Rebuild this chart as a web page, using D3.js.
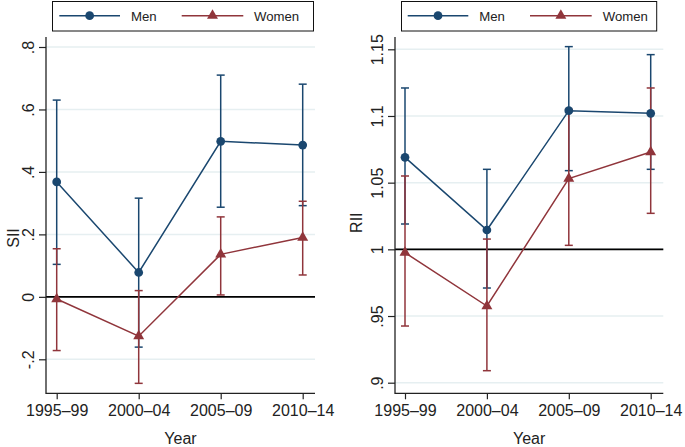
<!DOCTYPE html>
<html><head><meta charset="utf-8">
<script src="https://cdn.jsdelivr.net/npm/d3@7"></script>
<style>
html,body{margin:0;padding:0;background:#fff;}
svg{display:block;font-family:"Liberation Sans",Arial,Helvetica,sans-serif;}
</style></head>
<body><svg id="c" width="685" height="447"></svg>
<script>
const categories = ["1995–99","2000–04","2005–09","2010–14"];
const siiMen     = [0.368, 0.078, 0.498, 0.486];
const siiMenLo   = [0.104, -0.161, 0.287, 0.292];
const siiMenHi   = [0.630, 0.316, 0.710, 0.681];
const siiWomen   = [-0.007, -0.126, 0.136, 0.190];
const siiWomenLo = [-0.172, -0.277, 0.006, 0.070];
const siiWomenHi = [0.154, 0.020, 0.256, 0.306];
const riiMen     = [1.069, 1.0145, 1.104, 1.102];
const riiMenLo   = [1.019, 0.971, 1.059, 1.060];
const riiMenHi   = [1.121, 1.060, 1.152, 1.146];
const riiWomen   = [0.9975, 0.9575, 1.053, 1.073];
const riiWomenLo = [0.9425, 0.909, 1.003, 1.027];
const riiWomenHi = [1.055, 1.0077, 1.105, 1.121];
const siiTicks = [-0.2, 0, 0.2, 0.4, 0.6, 0.8];
const siiTickLabels = ["-.2","0",".2",".4",".6",".8"];
const riiTicks = [0.9, 0.95, 1, 1.05, 1.1, 1.15];
const riiTickLabels = [".9",".95","1","1.05","1.1","1.15"];
const seriesNames = ["Men","Women"];

const NAVY = "#1a476f", MAROON = "#90353b", GRID = "#e6eff1";
const svg = d3.select("#c");

function panel(cfg){
  const g = svg.append("g");
  const {x0,x1,yTop,yBot} = cfg;
  const x = d3.scalePoint().domain(categories).range(cfg.xr);
  const y = d3.scaleLinear().domain(cfg.ydom).range(cfg.yr);
  // gridlines
  g.selectAll(".grid").data(cfg.ticks).join("line")
    .attr("x1", x0).attr("x2", x1)
    .attr("y1", d=>y(d)).attr("y2", d=>y(d))
    .attr("stroke", GRID).attr("stroke-width", 1.5);
  // reference line
  g.append("line").attr("x1", x0).attr("x2", x1)
    .attr("y1", y(cfg.ref)).attr("y2", y(cfg.ref))
    .attr("stroke", "#000").attr("stroke-width", 1.8);
  // y axis
  const ya = g.append("g").attr("transform", `translate(${x0},0)`)
    .call(d3.axisLeft(y).tickValues(cfg.ticks).tickFormat((d,i)=>cfg.labels[i]).tickSize(7).tickSizeOuter(0));
  ya.select(".domain").remove();
  ya.selectAll(".tick line").attr("stroke","#222").attr("stroke-width",1.2);
  ya.selectAll(".tick text").attr("transform","rotate(-90)")
    .attr("x",0).attr("y",-12.5).attr("dy",0).attr("text-anchor","middle")
    .attr("font-size",16).attr("fill","#222").style("font-family","Liberation Sans, Arial, sans-serif");
  // x axis
  const xa = g.append("g").attr("transform", `translate(0,${yBot})`)
    .call(d3.axisBottom(x).tickSize(6).tickSizeOuter(0));
  xa.select(".domain").remove();
  xa.selectAll(".tick line").attr("stroke","#222").attr("stroke-width",1.2);
  xa.selectAll(".tick text").attr("y",22.4).attr("dy",0)
    .attr("font-size",16).attr("fill","#222").style("font-family","Liberation Sans, Arial, sans-serif");
  // axis lines
  g.append("line").attr("x1",x0).attr("x2",x0).attr("y1",yTop).attr("y2",yBot+0.6)
    .attr("stroke","#222").attr("stroke-width",1.3);
  g.append("line").attr("x1",x0).attr("x2",x1).attr("y1",yBot).attr("y2",yBot)
    .attr("stroke","#222").attr("stroke-width",1.3);
  // titles
  g.append("text").attr("transform",`translate(${cfg.ytx},${cfg.yty}) rotate(-90)`)
    .attr("text-anchor","middle").attr("font-size",16).attr("fill","#222").text(cfg.ytitle);
  g.append("text").attr("x",(x0+x1)/2).attr("y",444).attr("text-anchor","middle")
    .attr("font-size",16).attr("fill","#222").text("Year");

  const series = [
    {name:"Men", v:cfg.men, lo:cfg.menLo, hi:cfg.menHi, c:NAVY, sym:d3.symbolCircle, size:60},
    {name:"Women", v:cfg.women, lo:cfg.womenLo, hi:cfg.womenHi, c:MAROON, sym:d3.symbolTriangle, size:52}
  ];
  // error bars
  series.forEach(s=>{
    const eb = g.append("g");
    categories.forEach((cat,i)=>{
      const cx = x(cat);
      eb.append("line").attr("x1",cx).attr("x2",cx).attr("y1",y(s.lo[i])).attr("y2",y(s.hi[i]))
        .attr("stroke",s.c).attr("stroke-width",1.5);
      [s.lo[i], s.hi[i]].forEach(vv=>{
        eb.append("line").attr("x1",cx-4).attr("x2",cx+4).attr("y1",y(vv)).attr("y2",y(vv))
          .attr("stroke",s.c).attr("stroke-width",1.5);
      });
    });
  });
  // lines and markers
  series.forEach(s=>{
    const data = categories.map((c,i)=>[c, s.v[i]]);
    g.append("path").datum(data)
      .attr("d", d3.line().x(d=>x(d[0])).y(d=>y(d[1])))
      .attr("fill","none").attr("stroke",s.c).attr("stroke-width",1.5);
    g.selectAll(null).data(data).join("path")
      .attr("transform", d=>`translate(${x(d[0])},${y(d[1])})`)
      .attr("d", d3.symbol().type(s.sym).size(s.size)).attr("fill",s.c);
  });
  // legend
  const L = cfg.leg;
  const lg = g.append("g");
  lg.append("rect").attr("x",L.bx0).attr("y",1.5).attr("width",L.bx1-L.bx0).attr("height",29.5)
    .attr("fill","#fff").attr("stroke","#111").attr("stroke-width",1);
  series.forEach((s,k)=>{
    const it = L.items[k];
    lg.append("line").attr("x1",it[0]).attr("x2",it[1]).attr("y1",15.7).attr("y2",15.7)
      .attr("stroke",s.c).attr("stroke-width",1.5);
    lg.append("path").attr("transform",`translate(${(it[0]+it[1])/2},15.7)`)
      .attr("d", d3.symbol().type(s.sym).size(s.size)).attr("fill",s.c);
    lg.append("text").attr("x",it[2]).attr("y",20.6).attr("font-size",13.2).attr("fill","#222")
      .text(seriesNames[k]);
  });
}

panel({x0:46, x1:315, yTop:37, yBot:393.3, xr:[56.7,302.7],
  ydom:[-0.2,0.8], yr:[359.3,47], ticks:siiTicks, labels:siiTickLabels, ref:0,
  ytitle:"SII", ytx:19.3, yty:238,
  men:siiMen, menLo:siiMenLo, menHi:siiMenHi, women:siiWomen, womenLo:siiWomenLo, womenHi:siiWomenHi,
  leg:{bx0:52.5, bx1:313.5, items:[[59.3,120,131],[181.7,243.3,254]]}});
panel({x0:395, x1:663.3, yTop:37, yBot:393.3, xr:[405,650.7],
  ydom:[0.9,1.15], yr:[382.7,49.3], ticks:riiTicks, labels:riiTickLabels, ref:1,
  ytitle:"RII", ytx:361.7, yty:222.7,
  men:riiMen, menLo:riiMenLo, menHi:riiMenHi, women:riiWomen, womenLo:riiWomenLo, womenHi:riiWomenHi,
  leg:{bx0:401.5, bx1:656.7, items:[[407.7,468.3,479.3],[530,591.7,602.7]]}});
</script></body></html>
